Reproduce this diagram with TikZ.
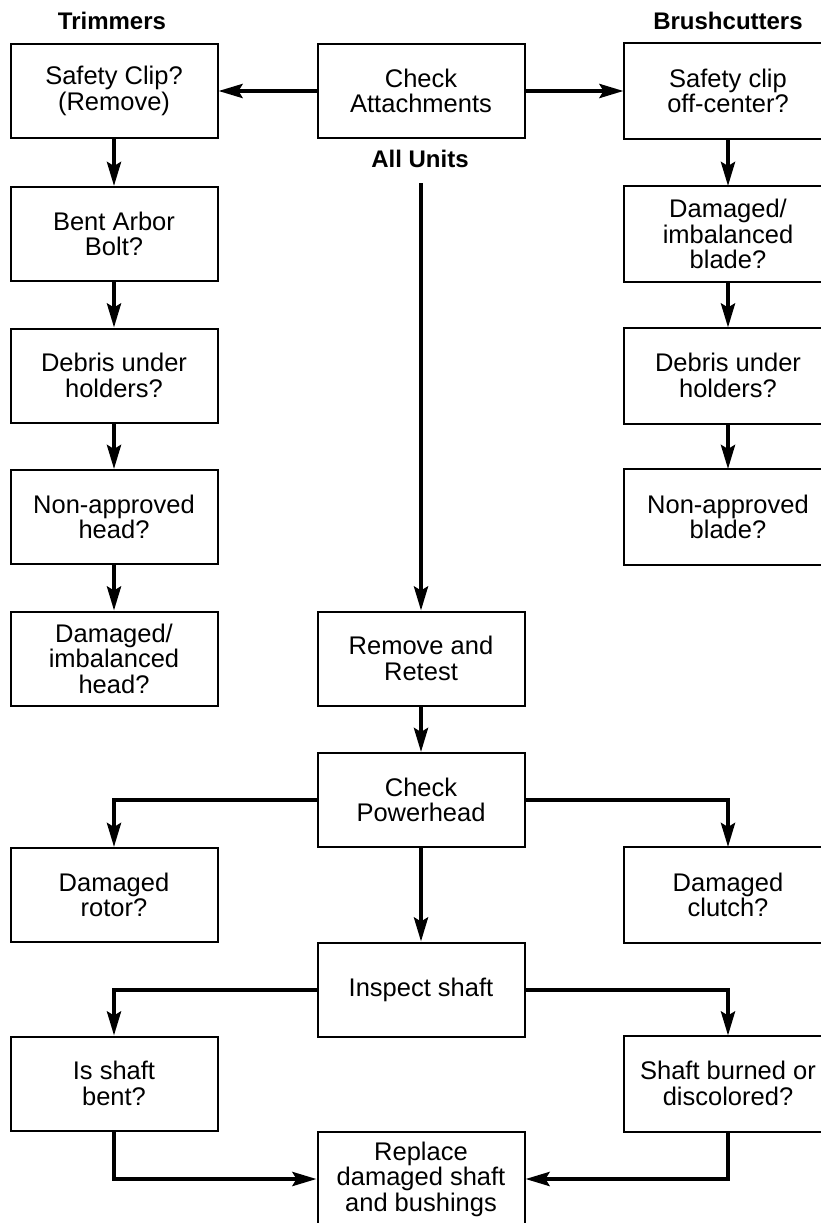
\documentclass[tikz,border=0pt]{standalone}
\usepackage{fontspec}
\setmainfont{Liberation Sans}
\usetikzlibrary{arrows.meta}
\begin{document}
\begin{tikzpicture}[x=1pt,y=-1pt,
  box/.style={draw=black,line width=2pt,minimum width=207pt,minimum height=94pt,
    inner sep=0pt,align=center,fill=white,font=\fontsize{25.5}{25.5}\selectfont},
  rbox/.style={box,draw=none},
  frame/.style={draw=black,line width=2pt},
  head/.style={font=\fontsize{24}{24}\selectfont\bfseries,inner sep=0pt},
  flow/.style={line width=4pt,-{Stealth[length=24pt,width=14pt,inset=4pt]}}]
\useasboundingbox (0,0) rectangle (821,1223);
\clip (0,0) rectangle (821,1223);
\fill[white] (0,0) rectangle (821,1223);

% column centres: left 114, centre 421, right 728 (right boxes run past the page edge)
% top row
\node[box] (tr1) at (114,91) {Safety Clip?\\(Remove)};
\node[box] (ca)  at (421,91) {Check\\Attachments};
\node[rbox] (bc1) at (728,91) {Safety clip\\off-center?};

% headings
\node[head] (trh) at (112,21) {Trimmers};
\node[head] (bch) at (728,21) {Brushcutters};
\node[head] (au)  at (420,159) {All Units};
\coordinate (austart) at (421,183);

% trimmer column
\node[box] (tr2) at (114,234)   {Bent Arbor\\Bolt?};
\node[box] (tr3) at (114,375.5) {Debris under\\holders?};
\node[box] (tr4) at (114,517)   {Non-approved\\head?};
\node[box] (tr5) at (114,658.5) {Damaged/\\imbalanced\\head?};

% brushcutter column
\node[rbox] (bc2) at (728,234)   {Damaged/\\imbalanced\\blade?};
\node[rbox] (bc3) at (728,375.5) {Debris under\\holders?};
\node[rbox] (bc4) at (728,517)   {Non-approved\\blade?};

% common path
\node[box] (rr)   at (421,658.5) {Remove and\\Retest};
\node[box] (cp)   at (421,800)   {Check\\Powerhead};
\node[box] (rot)  at (114,895)   {Damaged\\rotor?};
\node[rbox] (clu) at (728,895)   {Damaged\\clutch?};
\node[box] (is)   at (421,989.5) {Inspect shaft};
\node[box] (bent) at (114,1083.5) {Is shaft\\bent?};
\node[rbox] (burn) at (728,1083.5) {Shaft burned or\\discolored?};
\node[box] (rep)  at (421,1179)  {Replace\\damaged shaft\\and bushings};

% right-column frames, open past the page edge
\foreach \n in {bc1,bc2,bc3,bc4,clu,burn}
  \draw[frame] ([xshift=30pt]\n.north east) -| (\n.south west) -- ([xshift=30pt]\n.south east);

% connectors
\draw[flow] (ca.west) -- (tr1.east);
\draw[flow] (ca.east) -- (bc1.west);
\draw[flow] (tr1) -- (tr2);
\draw[flow] (tr2) -- (tr3);
\draw[flow] (tr3) -- (tr4);
\draw[flow] (tr4) -- (tr5);
\draw[flow] (bc1) -- (bc2);
\draw[flow] (bc2) -- (bc3);
\draw[flow] (bc3) -- (bc4);
\draw[flow] (austart) -- (rr.north);
\draw[flow] (rr) -- (cp);
\draw[flow] (cp.west) -| (rot.north);
\draw[flow] (cp.east) -| (clu.north);
\draw[flow] (cp) -- (is);
\draw[flow] (is.west) -| (bent.north);
\draw[flow] (is.east) -| (burn.north);
\draw[flow] (bent.south) |- (rep.west);
\draw[flow] (burn.south) |- (rep.east);
\end{tikzpicture}
\end{document}
